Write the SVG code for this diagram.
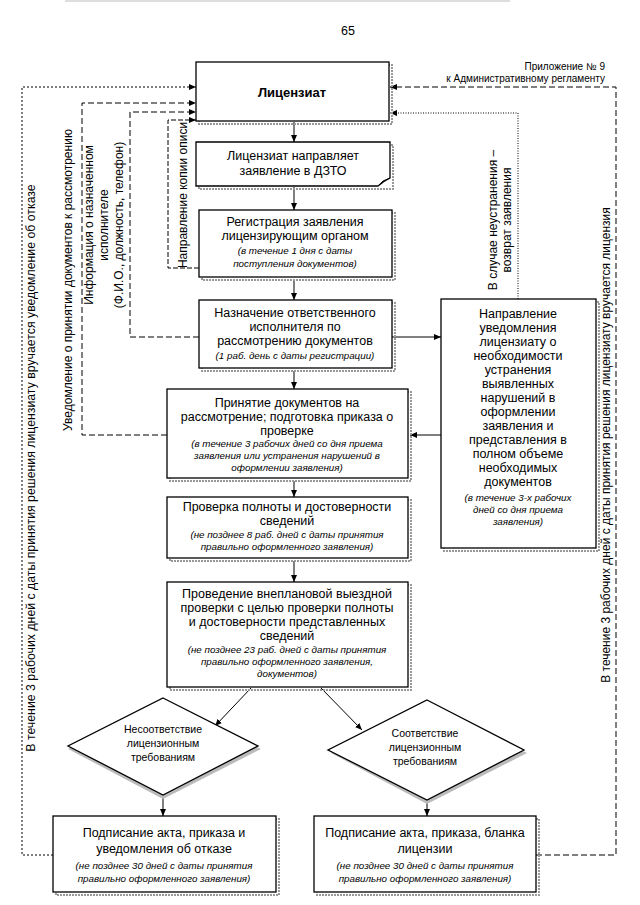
<svg xmlns="http://www.w3.org/2000/svg" width="640" height="905" viewBox="0 0 640 905">
<defs>
<marker id="ah" markerWidth="8" markerHeight="8" refX="7" refY="4" orient="auto" markerUnits="userSpaceOnUse">
<path d="M0,1 L7,4 L0,7 Z" fill="#000"/>
</marker>
<style>
.box{fill:#fff;stroke:#000;stroke-width:1.3}
.sh{fill:none;stroke:#999;stroke-width:2;stroke-dasharray:2 1}
.dsh{fill:#bbb;stroke:none}
.t{font-family:"Liberation Sans",Arial,sans-serif;font-size:12.5px;text-anchor:middle;fill:#000}
.b{font-weight:bold;font-size:13px}
.i{font-style:italic;font-size:9.8px}
.s{font-size:10.5px}
.v{font-family:"Liberation Sans",Arial,sans-serif;font-size:12px;text-anchor:middle;fill:#000}
.h{font-family:"Liberation Sans",Arial,sans-serif;font-size:10px;text-anchor:end;fill:#000}
.ln{fill:none;stroke:#000;stroke-width:1}
.dash{stroke-dasharray:6 3}
.dot{stroke-dasharray:2 2}
</style>
</defs>
<line x1="65" y1="1" x2="510" y2="1" stroke="#bbb" stroke-width="1"/>
<text class="t" x="348" y="35">65</text>
<text class="h" x="605" y="70">Приложение № 9</text>
<text class="h" x="605" y="82">к Административному регламенту</text>

<g id="connectors">
<line class="ln" x1="294" y1="122" x2="294" y2="142" marker-end="url(#ah)"/>
<line class="ln" x1="294" y1="187" x2="294" y2="210" marker-end="url(#ah)"/>
<line class="ln" x1="294" y1="280" x2="294" y2="300" marker-end="url(#ah)"/>
<line class="ln" x1="294" y1="371" x2="294" y2="389" marker-end="url(#ah)"/>
<line class="ln" x1="294" y1="481" x2="294" y2="497" marker-end="url(#ah)"/>
<line class="ln" x1="294" y1="561" x2="294" y2="582" marker-end="url(#ah)"/>
<line class="ln" x1="251" y1="688" x2="215" y2="726" marker-end="url(#ah)"/>
<line class="ln" x1="321" y1="688" x2="362" y2="730" marker-end="url(#ah)"/>
<line class="ln" x1="163" y1="796" x2="163" y2="816" marker-end="url(#ah)"/>
<line class="ln" x1="427" y1="801" x2="427" y2="816" marker-end="url(#ah)"/>
<line class="ln" x1="392" y1="337" x2="441" y2="337" marker-end="url(#ah)"/>
<line class="ln" x1="441" y1="435" x2="410" y2="435" marker-end="url(#ah)"/>
<path class="ln dot" d="M53,855 H22 V87 H196" marker-end="url(#ah)"/>
<path class="ln dash" d="M167,435 H82 V103 H196" marker-end="url(#ah)"/>
<path class="ln dash" d="M199,337 H130 V112 H196" marker-end="url(#ah)"/>
<path class="ln dash" style="stroke-dasharray:5 2" d="M199,268 H168 V120 H196" marker-end="url(#ah)"/>
<path class="ln dot" style="stroke-dasharray:1 1.5" d="M518,299 V113 H390" marker-end="url(#ah)"/>
<path class="ln dash" d="M536,855 H616 V87 H390" marker-end="url(#ah)"/>
<text class="v" style="font-size:12.3px" transform="translate(31,468) rotate(-90)" dy="4">В течение 3 рабочих дней с даты принятия решения лицензиату вручается уведомление об отказе</text>
<text class="v" transform="translate(68,280) rotate(-90)" dy="4">Уведомление о принятии документов к рассмотрению</text>
<text class="v" transform="translate(89,225) rotate(-90)" dy="4">Информация о назначенном</text>
<text class="v" transform="translate(104,225) rotate(-90)" dy="4">исполнителе</text>
<text class="v" transform="translate(119,225) rotate(-90)" dy="4">(Ф.И.О., должность, телефон)</text>
<text class="v" transform="translate(183,195) rotate(-90)" dy="4">Направление копии описи</text>
<text class="v" transform="translate(493,220) rotate(-90)" dy="4">В случае неустранения –</text>
<text class="v" transform="translate(507,220) rotate(-90)" dy="4">возврат заявления</text>
<text class="v" transform="translate(606,445) rotate(-90)" dy="4">В течение 3 рабочих дней с даты принятия решения лицензиату вручается лицензия</text>
</g>

<g id="n1">
<rect class="sh" x="199" y="65" width="193" height="59"/>
<rect class="box" x="196" y="62" width="193" height="59"/>
<text class="t b" x="292" y="97">Лицензиат</text>
</g>
<g id="n2">
<rect class="sh" x="199" y="145" width="194" height="44"/>
<path class="box" d="M196,142 H390 V178 Q384,181 378,186 H196 Z"/>
<path class="ln" d="M378,186 Q382,180 390,178"/>
<text class="t" x="293" y="160">Лицензиат направляет</text>
<text class="t" x="293" y="175">заявление в ДЗТО</text>
</g>
<g id="n3">
<rect class="sh" x="202" y="213" width="193" height="67"/>
<rect class="box" x="199" y="210" width="193" height="67"/>
<text class="t" x="295" y="226">Регистрация заявления</text>
<text class="t" x="295" y="240">лицензирующим органом</text>
<text class="t i" x="295" y="254">(в течение 1 дня с даты</text>
<text class="t i" x="295" y="267">поступления документов)</text>
</g>
<g id="n4">
<rect class="sh" x="202" y="303" width="193" height="68"/>
<rect class="box" x="199" y="300" width="193" height="68"/>
<text class="t" x="295" y="317">Назначение ответственного</text>
<text class="t" x="295" y="331">исполнителя по</text>
<text class="t" x="295" y="345">рассмотрению документов</text>
<text class="t i" x="295" y="359">(1 раб. день с даты регистрации)</text>
</g>
<g id="n5">
<rect class="sh" x="170" y="392" width="241" height="89"/>
<rect class="box" x="167" y="389" width="241" height="89"/>
<text class="t" x="287" y="407">Принятие документов  на</text>
<text class="t" x="287" y="421">рассмотрение; подготовка приказа о</text>
<text class="t" x="287" y="435">проверке</text>
<text class="t i" x="287" y="447">(в течение 3 рабочих дней со дня приема</text>
<text class="t i" x="287" y="459">заявления или устранения нарушений в</text>
<text class="t i" x="287" y="471">оформлении заявления)</text>
</g>
<g id="n6">
<rect class="sh" x="170" y="500" width="241" height="61"/>
<rect class="box" x="167" y="497" width="241" height="61"/>
<text class="t" x="287" y="511">Проверка полноты и достоверности</text>
<text class="t" x="287" y="525">сведений</text>
<text class="t i" x="287" y="538">(не позднее 8 раб. дней с даты принятия</text>
<text class="t i" x="287" y="550">правильно оформленного заявления)</text>
</g>
<g id="n7">
<rect class="sh" x="170" y="585" width="241" height="105"/>
<rect class="box" x="167" y="582" width="241" height="105"/>
<text class="t" x="287" y="598">Проведение внеплановой выездной</text>
<text class="t" x="287" y="612">проверки с целью проверки полноты</text>
<text class="t" x="287" y="626">и достоверности представленных</text>
<text class="t" x="287" y="640">сведений</text>
<text class="t i" x="287" y="653">(не позднее 23 раб. дней с даты принятия</text>
<text class="t i" x="287" y="665">правильно оформленного заявления,</text>
<text class="t i" x="287" y="677">документов)</text>
</g>
<g id="n8">
<rect class="sh" x="444" y="302" width="155" height="249"/>
<rect class="box" x="441" y="299" width="155" height="249"/>
<text class="t" x="518" y="318">Направление</text>
<text class="t" x="518" y="332">уведомления</text>
<text class="t" x="518" y="346">лицензиату  о</text>
<text class="t" x="518" y="360">необходимости</text>
<text class="t" x="518" y="374">устранения</text>
<text class="t" x="518" y="388">выявленных</text>
<text class="t" x="518" y="402">нарушений в</text>
<text class="t" x="518" y="416">оформлении</text>
<text class="t" x="518" y="430">заявления и</text>
<text class="t" x="518" y="444">представления в</text>
<text class="t" x="518" y="458">полном объеме</text>
<text class="t" x="518" y="472">необходимых</text>
<text class="t" x="518" y="486">документов</text>
<text class="t i" x="518" y="501">(в течение 3-х рабочих</text>
<text class="t i" x="518" y="513">дней со дня приема</text>
<text class="t i" x="518" y="525">заявления)</text>
</g>
<g id="d1">
<polygon class="dsh" points="163,701 261,749 163,799 68,749"/>
<polygon class="box" points="163,698 258,746 163,795 68,746"/>
<text class="t s" x="163" y="733">Несоответствие</text>
<text class="t s" x="163" y="747">лицензионным</text>
<text class="t s" x="163" y="761">требованиям</text>
</g>
<g id="d2">
<polygon class="dsh" points="427,703 527,753 427,804 331,753"/>
<polygon class="box" points="427,700 524,750 427,800 328,750"/>
<text class="t s" x="425" y="737">Соответствие</text>
<text class="t s" x="425" y="751">лицензионным</text>
<text class="t s" x="425" y="765">требованиям</text>
</g>
<g id="n9">
<rect class="sh" x="56" y="819" width="223" height="76"/>
<rect class="box" x="53" y="816" width="223" height="76"/>
<text class="t" x="164" y="837">Подписание акта, приказа и</text>
<text class="t" x="164" y="853">уведомления об отказе</text>
<text class="t i" x="164" y="869">(не позднее 30 дней с даты принятия</text>
<text class="t i" x="164" y="882">правильно оформленного заявления)</text>
</g>
<g id="n10">
<rect class="sh" x="317" y="819" width="222" height="76"/>
<rect class="box" x="314" y="816" width="222" height="76"/>
<text class="t" x="425" y="837">Подписание акта,  приказа,   бланка</text>
<text class="t" x="425" y="853">лицензии</text>
<text class="t i" x="425" y="869">(не позднее 30 дней с даты принятия</text>
<text class="t i" x="425" y="882">правильно оформленного заявления)</text>
</g>
</svg>
